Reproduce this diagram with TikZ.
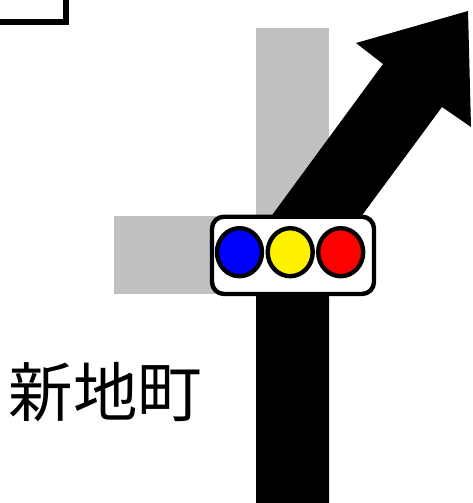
\documentclass[tikz,border=0pt]{standalone}
\usepackage{fontspec}
\usetikzlibrary{shapes.geometric}
\newfontfamily\cjk{Noto Sans CJK JP}
\definecolor{road}{RGB}{192,192,192}
\tikzset{
  signalbox/.style={draw=black,line width=4.4pt,fill=white,rounded corners=12pt},
  lamp/.style={ellipse,draw=black,line width=4.4pt,minimum width=45pt,minimum height=48pt,inner sep=0pt,outer sep=0pt},
  placename/.style={inner sep=0pt,font=\cjk\fontsize{64.5pt}{64.5pt}\selectfont}
}
\begin{document}
\begin{tikzpicture}[x=1pt,y=-1pt]
\useasboundingbox (0,0) rectangle (472,503);
\fill[white] (0,0) rectangle (472,503);
% sign corner
\draw[line width=6pt,line cap=butt] (-5,22) -- (66,22) -- (66,-5);
% grey branches
\fill[road] (256,28) rectangle (329,260);
\fill[road] (114,216) rectangle (256,294);
% black route
\fill[black] (256,503) -- (256,237) -- (383,64) -- (356,43) -- (468,11) -- (471,127) -- (442,107) -- (329,260) -- (329,503) -- cycle;
% signal
\draw[signalbox] (212,216.7) rectangle (374,294);
\node[lamp,fill=blue] (b) at (239.5,252.2) {};
\node[lamp,fill=yellow] (y) at (290.2,252.2) {};
\node[lamp,fill=red] (r) at (340.7,252.2) {};
\node[placename] (name) at (105.3,392.5) {新地町};
\end{tikzpicture}
\end{document}
